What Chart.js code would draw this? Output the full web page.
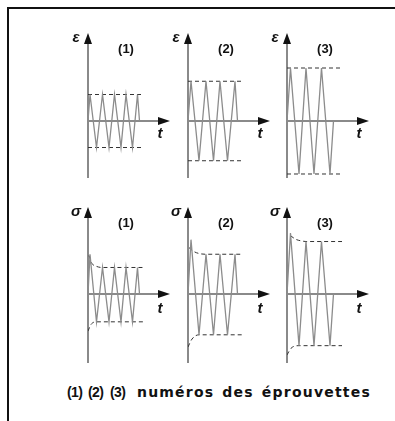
<!DOCTYPE html>
<html>
<head>
<meta charset="utf-8">
<script src="https://cdn.jsdelivr.net/npm/chart.js@4.4.1/dist/chart.umd.min.js"></script>
<style>
  body { margin: 0; background: #fff; width: 395px; height: 421px; position: relative; overflow: hidden; font-family: "Liberation Sans", Arial, sans-serif; }
  #frame { position: absolute; left: 7px; top: 7px; width: 420px; height: 440px; border-left: 2px solid #111; border-top: 2px solid #111; }
  canvas { position: absolute; }
  .cap { position: absolute; top: 384px; font-size: 14px; letter-spacing: -0.6px; font-weight: bold; color: #111; white-space: pre; }
  #words { font-family: "DejaVu Sans", sans-serif; font-size: 14px; letter-spacing: 1.2px; word-spacing: 2px; }
</style>
</head>
<body>
<div id="frame"></div>
<canvas id="eps1" width="110" height="157" style="left:66px;top:25px"></canvas>
<canvas id="eps2" width="110" height="157" style="left:166px;top:25px"></canvas>
<canvas id="eps3" width="110" height="157" style="left:265px;top:25px"></canvas>
<canvas id="sig1" width="110" height="168" style="left:66px;top:199px"></canvas>
<canvas id="sig2" width="110" height="168" style="left:166px;top:199px"></canvas>
<canvas id="sig3" width="110" height="168" style="left:265px;top:199px"></canvas>
<div class="cap" style="left:67px">(1)</div>
<div class="cap" style="left:88px">(2)</div>
<div class="cap" style="left:110px">(3)</div>
<div class="cap" id="words" style="left:137px">numéros des éprouvettes</div>
<script>
// strain-controlled cycles: turning points (time, strain)
const tEps1 = [0, 2, 8.5, 14.5, 21, 26.5, 33, 38, 44.5, 49.5, 51.5];
const eps1  = [0, 1, -1, 1, -1, 1, -1, 1, -1, 1, 0];
const tEps2 = [0, 3, 11, 18, 25.5, 32, 39.5, 47, 49.5];
const eps2  = [0, 1.5, -1.5, 1.5, -1.5, 1.5, -1.5, 1.5, 0];
const tEps3 = [0, 3.5, 12, 19, 27, 34.5, 43, 46.5];
const eps3  = [0, 2, -2, 2, -2, 2, -2, 0];

// imposed strain limits (dashed)
const limT1 = [0, 55], limHi1 = [1, 1], limLo1 = [-1, -1];
const limT2 = [0, 54], limHi2 = [1.5, 1.5], limLo2 = [-1.5, -1.5];
const limT3 = [0, 55], limHi3 = [2, 2], limLo3 = [-2, -2];

// stress response: turning points (time, stress)
const sig1 = [0, 1.5, -1.05, 1, -1.05, 1, -1.05, 1, -1.05, 1, 0];
const sig2 = [0, 2.05, -1.54, 1.5, -1.54, 1.5, -1.54, 1.5, 0];
const sig3 = [0, 2.3, -1.95, 1.98, -1.95, 1.98, -1.95, 0];

// stress envelopes (cyclic softening towards stabilised amplitude)
const envHiT1 = [1, 4, 8, 14, 55],   envHi1 = [1.45, 1.15, 1.05, 1, 1];
const envLoT1 = [0, 3, 9, 55],       envLo1 = [-1.4, -1.15, -1.05, -1.05];
const envHiT2 = [1, 6, 12, 18, 54],  envHi2 = [1.75, 1.6, 1.52, 1.5, 1.5];
const envLoT2 = [0, 4, 11, 54],      envLo2 = [-2, -1.7, -1.54, -1.54];
const envHiT3 = [3.5, 9, 15, 19, 55], envHi3 = [2.2, 2.06, 2.0, 1.98, 1.98];
const envLoT3 = [0, 4, 12, 55],      envLo3 = [-2.3, -2.05, -1.95, -1.95];

const pts = (xs, ys) => xs.map((x, i) => ({ x, y: ys[i] }));

// axes with arrow heads through the origin, plus symbol / specimen labels
const arrowAxes = {
  id: 'arrowAxes',
  beforeDatasetsDraw(chart, args, o) {
    const { ctx, chartArea: a, scales: { x, y } } = chart;
    const x0 = x.getPixelForValue(0), y0 = y.getPixelForValue(0);
    ctx.save();
    ctx.strokeStyle = '#8a8a8a';
    ctx.lineWidth = 2;
    ctx.beginPath();
    ctx.moveTo(x0, a.bottom); ctx.lineTo(x0, a.top + 8);
    ctx.moveTo(x0, y0); ctx.lineTo(a.right - 8, y0);
    ctx.stroke();
    ctx.fillStyle = '#111';
    ctx.beginPath();
    ctx.moveTo(x0, a.top); ctx.lineTo(x0 - 4, a.top + 11); ctx.lineTo(x0 + 4, a.top + 11);
    ctx.closePath(); ctx.fill();
    ctx.beginPath();
    ctx.moveTo(a.right, y0); ctx.lineTo(a.right - 12, y0 - 4); ctx.lineTo(a.right - 12, y0 + 4);
    ctx.closePath(); ctx.fill();
    ctx.textAlign = 'center';
    ctx.textBaseline = 'middle';
    ctx.font = 'italic bold 15px "Liberation Sans"';
    ctx.fillText(o.sym, x0 - 12, a.top + 5);
    ctx.fillText('t', a.right - 10, y0 + o.tGap);
    ctx.font = 'bold 13px "Liberation Sans"';
    ctx.fillText(o.num, x0 + 38, a.top + 16);
    ctx.restore();
  }
};

function panel(id, sym, num, tGap, yMin, yMax, waveT, wave, hiT, hi, loT, lo) {
  const dashed = {
    borderColor: '#333', borderWidth: 1, borderDash: [4, 3],
    pointRadius: 0, cubicInterpolationMode: 'monotone', fill: false
  };
  new Chart(document.getElementById(id), {
    type: 'line',
    data: {
      datasets: [
        { data: pts(waveT, wave), borderColor: '#8c8c8c', borderWidth: 1.3, pointRadius: 0, tension: 0 },
        Object.assign({ data: pts(hiT, hi) }, dashed),
        Object.assign({ data: pts(loT, lo) }, dashed)
      ]
    },
    options: {
      responsive: false,
      animation: false,
      parsing: false,
      layout: { padding: { left: 22, right: 6, top: 8, bottom: 4 } },
      scales: {
        x: { type: 'linear', display: false, min: 0, max: 82 },
        y: { type: 'linear', display: false, min: yMin, max: yMax }
      },
      plugins: {
        legend: { display: false },
        tooltip: { enabled: false },
        arrowAxes: { sym, num, tGap }
      }
    },
    plugins: [arrowAxes]
  });
}

panel('eps1', 'ε', '(1)', 13, -2.151, 3.321, tEps1, eps1, limT1, limHi1, limT1, limLo1);
panel('eps2', 'ε', '(2)', 13, -2.151, 3.321, tEps2, eps2, limT2, limHi2, limT2, limLo2);
panel('eps3', 'ε', '(3)', 13, -2.151, 3.321, tEps3, eps3, limT3, limHi3, limT3, limLo3);
panel('sig1', 'σ', '(1)', 15, -2.604, 3.283, tEps1, sig1, envHiT1, envHi1, envLoT1, envLo1);
panel('sig2', 'σ', '(2)', 15, -2.604, 3.283, tEps2, sig2, envHiT2, envHi2, envLoT2, envLo2);
panel('sig3', 'σ', '(3)', 15, -2.604, 3.283, tEps3, sig3, envHiT3, envHi3, envLoT3, envLo3);
</script>
</body>
</html>
